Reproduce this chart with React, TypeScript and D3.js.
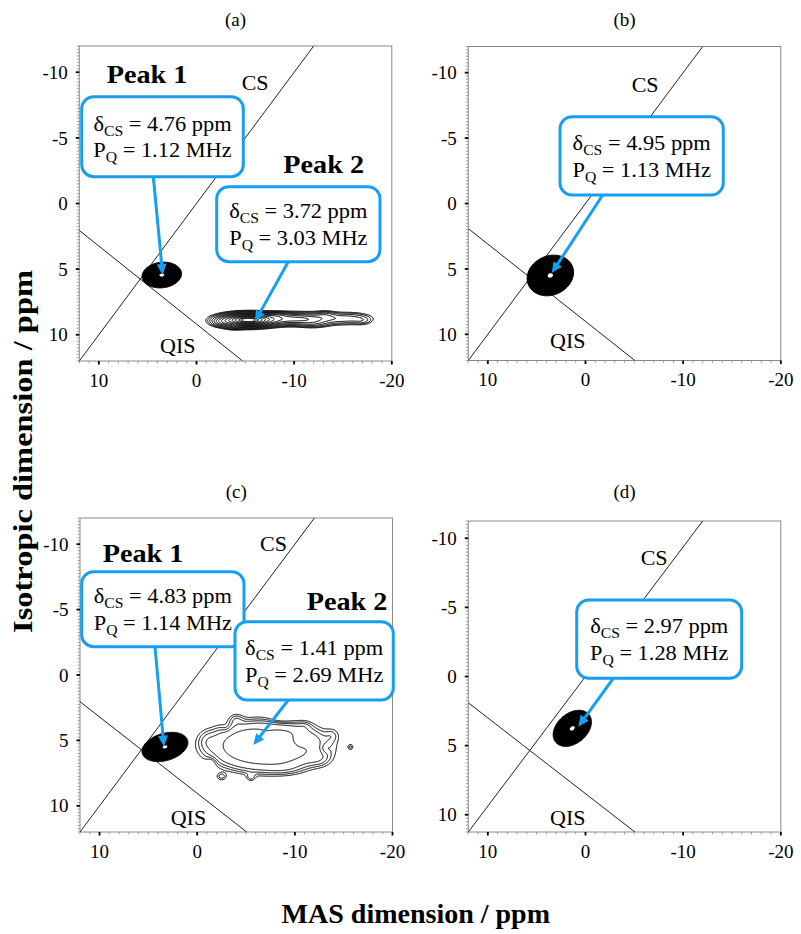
import React from 'react';
import * as d3 from 'd3';

const FONT = "'Liberation Serif','Times New Roman',Times,serif";
const BLUE = '#169ff0';

// ---------- data ----------
const PANEL_TITLES = ['(a)', '(b)', '(c)', '(d)'];
const X_TICKS = [10, 0, -10, -20];
const Y_TICKS = [-10, -5, 0, 5, 10];
const X_DOMAIN: [number, number] = [12, -20];
const Y_DOMAINS: [number, number][] = [[-12, 12], [-12, 12], [-12, 12], [-11.25, 11.25]];
const DELTA_CS = [[4.76, 3.72], [4.95], [4.83, 1.41], [2.97]];
const P_Q = [[1.12, 3.03], [1.13], [1.14, 2.69], [1.28]];
const PEAK_NAMES = [['Peak 1', 'Peak 2'], [], ['Peak 1', 'Peak 2'], []];
const ARROW_TIPS = [[[3.46, 5.45], [-5.99, 9.0]], [[3.46, 5.32]], [[3.4, 5.48], [-5.75, 5.35]], [[0.74, 3.63]]];
const CS_LINES = [[[12, 12], [-12, -12]], [[12, 12], [-12, -12]], [[12, 12], [-12, -12]], [[12, 11.25], [-12, -11.25]]];
const QIS_LINES = [[[12, 2.05], [-4.73, 12]], [[12, 1.92], [-5.06, 12]], [[12, 2.04], [-5.07, 12]], [[12, 1.9], [-5.06, 11.25]]];

// peak components: [x0, y0, sx, sy, rho, amp, order]
const PEAK1_A = [[3.55, 5.45, 0.99, 0.48, 0.1, 1, 1.5]];
const PEAK2_A = [
  [-5.2, 8.88, 1.7, 0.3, 0, 1, 1],
  [-10.3, 8.8, 2.6, 0.3, 0, 0.34, 1],
  [-15.8, 8.75, 1.5, 0.3, 0, 0.13, 1],
  [-13.2, 8.45, 0.7, 0.2, 0, 0.07, 1],
  [-2.6, 9.05, 0.7, 0.22, 0, 0.12, 1],
  [-8.2, 8.5, 0.8, 0.15, 0, 0.1, 1],
  [-12.0, 9.2, 1.0, 0.2, 0, 0.07, 1],
  [-17.0, 8.95, 0.6, 0.2, 0, 0.05, 1],
  [-3.8, 9.4, 0.6, 0.15, 0, 0.08, 1],
];
const PEAK1_B = [[3.6, 5.5, 1.1, 0.72, 0.15, 1, 1.3]];
const PEAK1_C = [[3.3, 5.5, 1.05, 0.5, 0.3, 1, 1.2]];
const PEAK2_C = [
  [-7.1, 5.45, 4.1, 1.3, 0, 1, 2],
  [-5.5, 5.2, 1.5, 0.6, 0, 0.25, 1],
  [-10.5, 5.0, 0.6, 0.4, 0, -0.3, 1],
  [-12.5, 6.4, 0.8, 0.4, 0, 0.2, 1],
  [-1.0, 5.0, 0.6, 0.5, 0, 0.15, 1],
  [-4.0, 3.4, 0.5, 0.3, 0, 0.2, 1],
  [-8.5, 3.5, 1.0, 0.3, 0, -0.15, 1],
  [-2.5, 7.75, 0.35, 0.2, 0, 0.22, 1],
  [-5.5, 7.8, 0.3, 0.2, 0, 0.2, 1],
  [-15.7, 5.5, 0.2, 0.15, 0, 0.2, 1],
  [-9.0, 7.2, 1.2, 0.3, 0, 0.1, 1],
  [-7.0, 4.6, 0.8, 0.35, 0, -0.2, 1],
  [-13.8, 4.6, 0.5, 0.35, 0, 0.15, 1],
  [-1.5, 6.6, 0.4, 0.3, 0, -0.12, 1],
  [-11.0, 3.9, 0.5, 0.25, 0, 0.12, 1],
  [-13.0, 5.6, 0.4, 0.3, 0, -0.15, 1],
  [-3.0, 4.1, 0.4, 0.3, 0, -0.12, 1],
];
const PEAK1_D = [[1.35, 3.75, 1.02, 0.68, 0.35, 1, 1.8]];

const LEVELS_1A = [0.05, 0.994];
const LEVELS_1B = [0.05, 0.989];
const LEVELS_1C = [0.05, 0.985];
const LEVELS_1D = [0.05, 0.998];
const STREAK_LEVELS = [0.05, 0.07, 0.1, 0.14, 0.19, 0.25, 0.32, 0.4, 0.5, 0.6, 0.7, 0.8, 0.9, 0.96];
const BROAD_LEVELS = [0.1, 0.17, 0.26, 0.4, 0.75];

const PANEL_PEAKS = [
  [{ comps: PEAK1_A, levels: LEVELS_1A, solid: true }, { comps: PEAK2_A, levels: STREAK_LEVELS, solid: false }],
  [{ comps: PEAK1_B, levels: LEVELS_1B, solid: true }],
  [{ comps: PEAK1_C, levels: LEVELS_1C, solid: true }, { comps: PEAK2_C, levels: BROAD_LEVELS, solid: false }],
  [{ comps: PEAK1_D, levels: LEVELS_1D, solid: true }],
];

// ---------- layout ----------
const PW = 312.5;
const LAYOUT = [
  { left: 79.3, top: 46, h: 315, titleY: 26,
    boxes: [{ x: 2.4, y: 50.7, w: 161.6, h: 80, ax: 71.6 }, { x: 137.4, y: 140.7, w: 163.3, h: 75, ax: 71.6 }],
    peakLbl: [[27.4, 37.3], [204, 127.3]], cs: [162.4, 44], qis: [80.7, 307.3] },
  { left: 468.3, top: 46.5, h: 314, titleY: 26,
    boxes: [{ x: 91.7, y: 70.2, w: 163.3, h: 78.3, ax: 42.7 }],
    peakLbl: [], cs: [163.4, 45.2], qis: [81.7, 301.8] },
  { left: 80, top: 518, h: 314, titleY: 498,
    boxes: [{ x: 1.7, y: 53.7, w: 162.3, h: 75, ax: 73.3 }, { x: 155, y: 103.7, w: 158.3, h: 78.3, ax: 53.3 }],
    peakLbl: [[22.7, 43.7], [226.7, 92]], cs: [180, 32.7], qis: [90.7, 307] },
  { left: 468.3, top: 521, h: 311, titleY: 498,
    boxes: [{ x: 108.4, y: 79, w: 165, h: 78.3, ax: 36.6 }],
    peakLbl: [], cs: [172.4, 44], qis: [81.7, 304] },
];

function evalComps(comps: number[][], x: number, y: number) {
  let s = 0;
  for (const c of comps) {
    const [x0, y0, sx, sy, rho, amp, order] = c;
    const u = (x - x0) / sx, v = (y - y0) / sy;
    const q = (u * u - 2 * rho * u * v + v * v) / (1 - rho * rho);
    s += amp * Math.exp(-Math.pow(q / 2, order));
  }
  return s;
}

function contourPaths(comps: number[][], levels: number[], xs: any, ys: any, w: number, h: number) {
  const nx = Math.ceil(w), ny = Math.ceil(h);
  const vals = new Array(nx * ny);
  for (let j = 0; j < ny; j++) {
    const y = ys.invert(j + 0.5);
    for (let i = 0; i < nx; i++) {
      vals[j * nx + i] = evalComps(comps, xs.invert(i + 0.5), y);
    }
  }
  const cs = d3.contours().size([nx, ny]).thresholds(levels)(vals);
  const path = d3.geoPath(d3.geoIdentity() as any);
  return cs.map((c) => path(c as any) || '');
}

function Arrow({ x1, y1, x2, y2 }: { x1: number; y1: number; x2: number; y2: number }) {
  const dx = x2 - x1, dy = y2 - y1, L = Math.hypot(dx, dy);
  const ux = dx / L, uy = dy / L;
  const hl = 11, hw = 5;
  const bx = x2 - ux * hl, by = y2 - uy * hl;
  const pts = [[x2, y2], [bx - uy * hw, by + ux * hw], [bx + uy * hw, by - ux * hw]];
  return (
    <g>
      <line x1={x1} y1={y1} x2={bx + ux * 1} y2={by + uy * 1} stroke={BLUE} strokeWidth={3} />
      <polygon points={pts.map((p) => p.join(',')).join(' ')} fill={BLUE} />
    </g>
  );
}

function Panel({ idx }: { idx: number }) {
  const L = LAYOUT[idx];
  const xs = d3.scaleLinear().domain(X_DOMAIN).range([0, PW]);
  const ys = d3.scaleLinear().domain(Y_DOMAINS[idx]).range([0, L.h]);
  const clipId = `clip${idx}`;
  const xMinor = d3.range(-20, 12.01, 1);
  const yMinor = d3.range(Math.ceil(Y_DOMAINS[idx][0] * 4) / 4, Y_DOMAINS[idx][1] + 0.001, 0.25);
  const peaks = PANEL_PEAKS[idx].map((pk) => ({ ...pk, paths: contourPaths(pk.comps, pk.levels, xs, ys, PW, L.h) }));
  const line = d3.line<number[]>().x((d) => xs(d[0])).y((d) => ys(d[1]));

  return (
    <g>
      <text x={L.left + PW / 2} y={L.titleY} textAnchor="middle" fontSize={19}>{PANEL_TITLES[idx]}</text>
      <g transform={`translate(${L.left},${L.top})`}>
        <defs>
          <clipPath id={clipId}><rect x={0} y={0} width={PW} height={L.h} /></clipPath>
        </defs>
        <rect x={0} y={0} width={PW} height={L.h} fill="white" stroke="#8a8a8a" strokeWidth={1} />
        {xMinor.map((v) => (
          <line key={'xm' + v} x1={xs(v)} x2={xs(v)} y1={L.h} y2={L.h + 2.5} stroke="#8a8a8a" strokeWidth={0.8} />
        ))}
        {yMinor.map((v) => (
          <line key={'ym' + v} x1={-2.5} x2={0} y1={ys(v)} y2={ys(v)} stroke="#8a8a8a" strokeWidth={0.8} />
        ))}
        {X_TICKS.map((v) => (
          <g key={'xt' + v}>
            <line x1={xs(v)} x2={xs(v)} y1={L.h} y2={L.h + 3.5} stroke="#000" strokeWidth={1.8} />
            <text x={xs(v)} y={L.h + 25.5} textAnchor="middle" fontSize={19}>{v}</text>
          </g>
        ))}
        {Y_TICKS.map((v) => (
          <g key={'yt' + v}>
            <line x1={-3.5} x2={0} y1={ys(v)} y2={ys(v)} stroke="#000" strokeWidth={1.8} />
            <text x={-11.5} y={ys(v)} dy="0.35em" textAnchor="end" fontSize={19}>{v}</text>
          </g>
        ))}
        <g clipPath={`url(#${clipId})`}>
          <path d={line(CS_LINES[idx]) || ''} stroke="#222" strokeWidth={1} fill="none" />
          <path d={line(QIS_LINES[idx]) || ''} stroke="#222" strokeWidth={1} fill="none" />
          {peaks.map((pk, k) =>
            pk.solid ? (
              <g key={'pk' + k}>
                <path d={pk.paths[0]} fill="#000" stroke="#000" strokeWidth={1} />
                <path d={pk.paths[1]} fill="#fff" stroke="none" />
              </g>
            ) : (
              <g key={'pk' + k}>
                {pk.paths.map((d, m) => (
                  <path key={m} d={d} fill="none" stroke="#000" strokeWidth={1} />
                ))}
              </g>
            )
          )}
        </g>
        <text x={L.cs[0]} y={L.cs[1]} fontSize={22}>CS</text>
        <text x={L.qis[0]} y={L.qis[1]} fontSize={22}>QIS</text>
        {L.boxes.map((b, k) => {
          const tip = ARROW_TIPS[idx][k];
          return (
            <g key={'box' + k}>
              <Arrow x1={b.x + b.ax} y1={b.y + b.h} x2={xs(tip[0])} y2={ys(tip[1])} />
              <rect x={b.x} y={b.y} width={b.w} height={b.h} rx={12} ry={12} fill="#fff" stroke={BLUE} strokeWidth={3} />
              <g transform={`translate(${b.x + b.w / 2},${b.y + b.h / 2 - 6}) scale(1.12,1)`}>
                <text x={0} y={0} textAnchor="middle" fontSize={20}>
                  δ<tspan fontSize={14} dy={5}>CS</tspan><tspan dy={-5}>{` = ${DELTA_CS[idx][k].toFixed(2)} ppm`}</tspan>
                </text>
              </g>
              <g transform={`translate(${b.x + b.w / 2},${b.y + b.h / 2 + 20.7}) scale(1.12,1)`}>
                <text x={0} y={0} textAnchor="middle" fontSize={20}>
                  P<tspan fontSize={14} dy={5}>Q</tspan><tspan dy={-5}>{` = ${P_Q[idx][k].toFixed(2)} MHz`}</tspan>
                </text>
              </g>
            </g>
          );
        })}
        {PEAK_NAMES[idx].map((nm, k) => (
          <g key={'pn' + k} transform={`translate(${L.peakLbl[k][0]},${L.peakLbl[k][1]}) scale(1.13,1)`}>
            <text x={0} y={0} fontSize={25} fontWeight="bold">{nm}</text>
          </g>
        ))}
      </g>
    </g>
  );
}

export default function App() {
  return (
    <svg width={801} height={934} style={{ position: 'absolute', left: 0, top: 0, background: '#fff' }} fontFamily={FONT}>
      <rect x={0} y={0} width={801} height={934} fill="#fff" />
      {[0, 1, 2, 3].map((i) => <Panel key={i} idx={i} />)}
      <text transform="translate(31.7,451.5) rotate(-90)" textAnchor="middle" fontSize={28} fontWeight="bold"
        textLength={363} lengthAdjust="spacingAndGlyphs">Isotropic dimension / ppm</text>
      <text x={415.8} y={923.3} textAnchor="middle" fontSize={28} fontWeight="bold">MAS dimension / ppm</text>
    </svg>
  );
}
